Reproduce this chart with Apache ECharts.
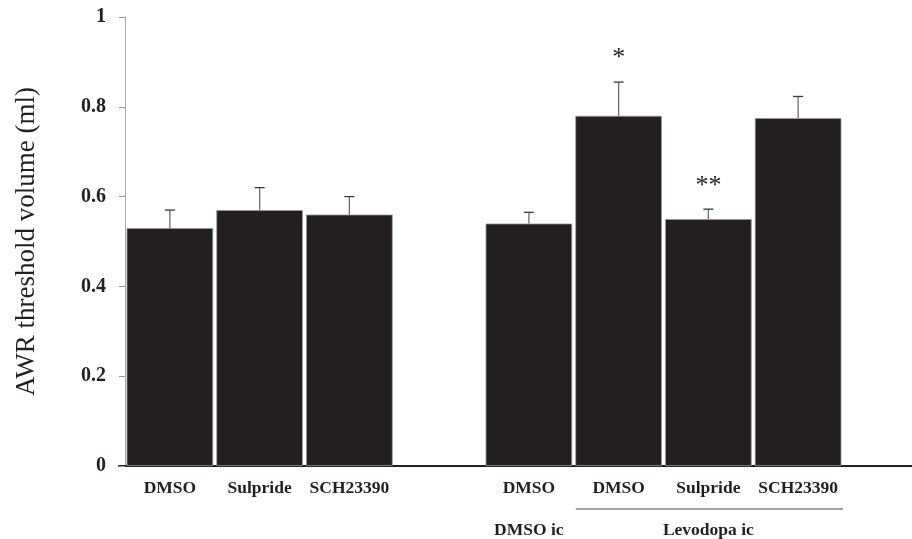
<!DOCTYPE html>
<html>
<head>
<meta charset="utf-8">
<script src="https://cdn.jsdelivr.net/npm/echarts@6/dist/echarts.min.js"></script>
<style>
html,body{margin:0;padding:0;background:#fff;}
#chart{width:912px;height:539px;}
</style>
</head>
<body>
<div id="chart"></div>
<script>
// ---- data ----
const categories = ['DMSO', 'Sulpride', 'SCH23390', '', 'DMSO', 'DMSO', 'Sulpride', 'SCH23390'];
const groupLabels = ['', '', '', '', 'DMSO ic', '', 'Levodopa ic', ''];
const means = [0.53, 0.57, 0.56, null, 0.54, 0.78, 0.55, 0.775];
const errors = [0.04, 0.05, 0.04, null, 0.025, 0.075, 0.022, 0.048];
const stars = ['', '', '', '', '', '*', '**', ''];
const yTicks = [0, 0.2, 0.4, 0.6, 0.8, 1];
const yTitle = 'AWR threshold volume (ml)';
const underlineFrom = 5, underlineTo = 7;

const SERIF = "'Liberation Serif','Times New Roman',Times,serif";
const chart = echarts.init(document.getElementById('chart'), null, {renderer: 'canvas'});

const errData = means.map((m, i) => m == null ? [i, null, null, ''] : [i, m, m + errors[i], stars[i]]);

const option = {
  backgroundColor: '#ffffff',
  animation: false,
  grid: [
    {left: 125, right: 69, top: 17, bottom: 73, containLabel: false, outerBoundsMode: 'none'},
    {left: 119, right: 0, top: 17, bottom: 73, containLabel: false, outerBoundsMode: 'none'}
  ],
  xAxis: [
    {
      type: 'category', gridIndex: 0, data: categories,
      axisLine: {show: false}, axisTick: {show: false},
      axisLabel: {
        interval: 0, margin: 12,
        formatter: (v, i) => groupLabels[i] ? '{a|' + v + '}\n{b|' + groupLabels[i] + '}' : '{a|' + v + '}',
        rich: {
          a: {fontFamily: SERIF, fontWeight: 'bold', fontSize: 17.5, color: '#231f20', lineHeight: 20},
          b: {fontFamily: SERIF, fontWeight: 'bold', fontSize: 17.5, color: '#231f20', lineHeight: 64}
        },
        verticalAlign: 'top'
      }
    },
    {
      type: 'value', gridIndex: 1, min: 0, max: 1,
      axisLine: {show: true, lineStyle: {color: '#231f20', width: 2}},
      axisTick: {show: false}, axisLabel: {show: false}, splitLine: {show: false}
    }
  ],
  yAxis: [
    {
      type: 'value', gridIndex: 0, min: 0, max: 1, interval: 0.2,
      name: yTitle, nameLocation: 'middle', nameGap: 85, nameRotate: 90,
      nameTextStyle: {fontFamily: SERIF, fontSize: 27, color: '#231f20'},
      axisLine: {show: true, lineStyle: {color: '#aaaaaa', width: 1}},
      axisTick: {show: true, length: 6, lineStyle: {color: '#999999'}},
      axisLabel: {
        margin: 19, fontFamily: SERIF, fontWeight: 'bold', fontSize: 20, color: '#231f20',
        formatter: v => {
          const t = yTicks.find(x => Math.abs(x - v) < 1e-9);
          return t === undefined ? '' : String(t);
        }
      },
      splitLine: {show: false}
    },
    {type: 'value', gridIndex: 1, min: 0, max: 1, show: false}
  ],
  series: [
    {
      type: 'bar', xAxisIndex: 0, yAxisIndex: 0, data: means,
      barWidth: '96.5%',
      itemStyle: {color: '#231f20', borderColor: '#9a9a9a', borderWidth: 0.8},
      z: 3
    },
    {
      type: 'custom', xAxisIndex: 0, yAxisIndex: 0, data: errData,
      z: 4,
      renderItem: (params, api) => {
        const top = api.value(2);
        if (top == null || isNaN(top)) return null;
        const x = api.value(0);
        const pBase = api.coord([x, api.value(1)]);
        const pTop = api.coord([x, top]);
        const star = stars[params.dataIndex];
        const children = [
          {type: 'line', shape: {x1: pBase[0], y1: pBase[1], x2: pTop[0], y2: pTop[1]},
           style: {stroke: '#6d6d6d', lineWidth: 1.3}},
          {type: 'line', shape: {x1: pTop[0] - 5, y1: pTop[1], x2: pTop[0] + 5, y2: pTop[1]},
           style: {stroke: '#3a3a3a', lineWidth: 1.3}}
        ];
        if (star) {
          children.push({type: 'text', style: {
            text: star, x: pTop[0], y: pTop[1] - 23.5, align: 'center', verticalAlign: 'middle',
            fontFamily: SERIF, fontSize: 26, fill: '#231f20'
          }});
        }
        return {type: 'group', children};
      }
    }
  ]
};
chart.setOption(option);

// underline below the Levodopa group labels, derived from the category scale
const c0 = chart.convertToPixel({xAxisIndex: 0}, underlineFrom);
const c1 = chart.convertToPixel({xAxisIndex: 0}, underlineTo);
const c2 = chart.convertToPixel({xAxisIndex: 0}, underlineFrom + 1);
const half = (c2 - c0) / 2;
const yZero = chart.convertToPixel({yAxisIndex: 0}, 0);
chart.setOption({
  graphic: [{
    type: 'line', z: 10,
    shape: {x1: c0 - half + 2, y1: yZero + 43, x2: c1 + half, y2: yZero + 43},
    style: {stroke: '#444', lineWidth: 1}
  }]
});
</script>
</body>
</html>
